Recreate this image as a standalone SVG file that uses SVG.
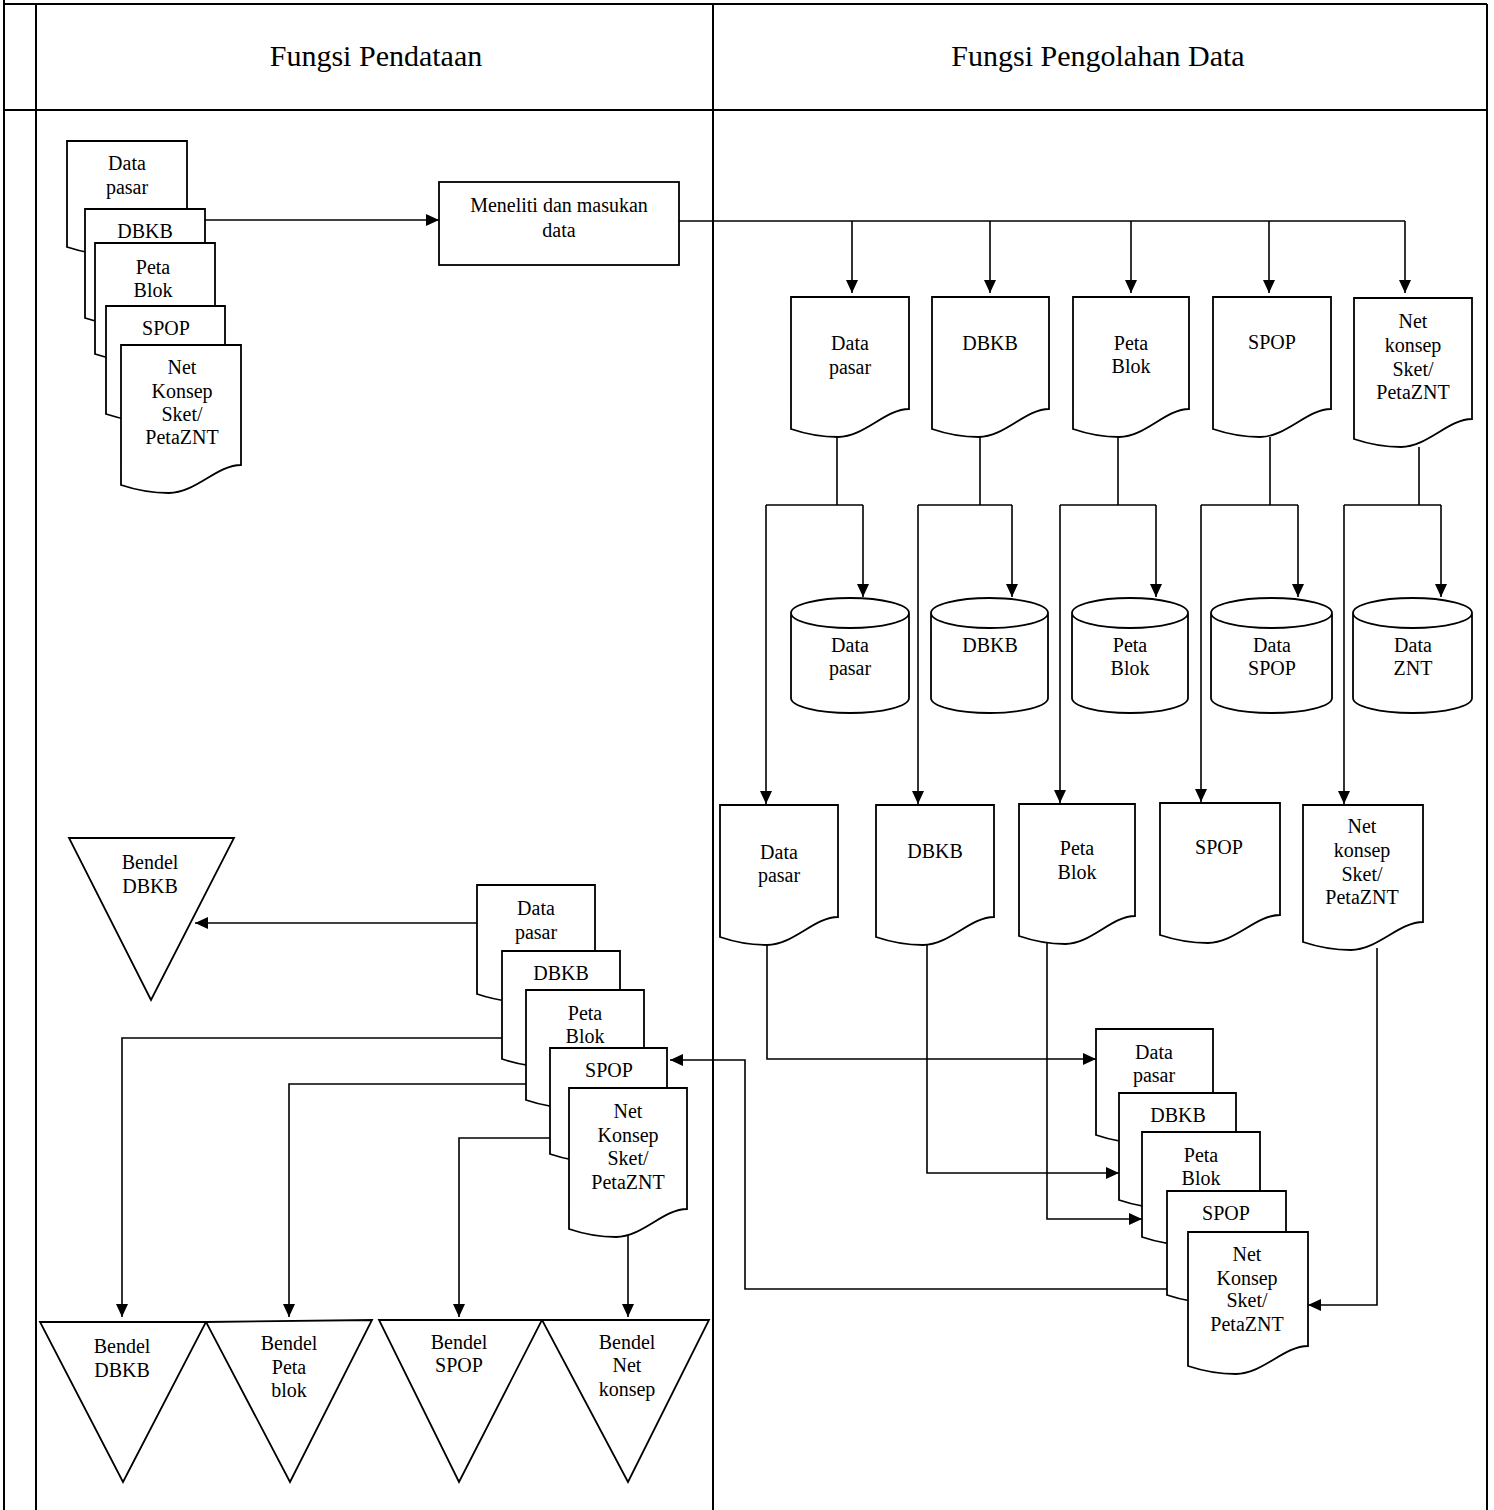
<svg xmlns="http://www.w3.org/2000/svg" width="1494" height="1510" viewBox="0 0 1494 1510">
<style>
.frame{fill:none;stroke:#000;stroke-width:2}
.shape{fill:#fff;stroke:#000;stroke-width:1.8}
.line{fill:none;stroke:#000;stroke-width:1.6}
.arr{fill:none;stroke:#000;stroke-width:1.6;marker-end:url(#ah)}
text{font-family:"Liberation Serif","Times New Roman",serif;font-size:20px;fill:#000;text-anchor:middle}
.hdr{font-size:30px}
</style>
<defs>
<marker id="ah" viewBox="0 0 13 12" refX="13" refY="6" markerWidth="13" markerHeight="12" markerUnits="userSpaceOnUse" orient="auto">
<path d="M0,0 L13,6 L0,12 Z" fill="#000"/>
</marker>
</defs>
<rect width="1494" height="1510" fill="#fff"/>
<g id="frame">
<path class="frame" d="M4,0 V1510 M36,4 V1510 M713,4 V1510 M1487,4 V1510 M4,4 H1487 M4,110 H1487"/>
<text class="hdr" x="376" y="66">Fungsi Pendataan</text>
<text class="hdr" x="1098" y="66">Fungsi Pengolahan Data</text>
</g>
<g id="connectors">
<path class="arr" d="M205,220 H439"/>
<path class="line" d="M679,221 H1405"/>
<path class="arr" d="M852,221 V293"/>
<path class="arr" d="M990,221 V293"/>
<path class="arr" d="M1131,221 V293"/>
<path class="arr" d="M1269,221 V293"/>
<path class="arr" d="M1405,221 V293"/>
<path class="line" d="M837,437 V505 M766,505 H863 M980,437 V505 M918,505 H1012 M1118,437 V505 M1060,505 H1156 M1270,437 V505 M1201,505 H1298 M1419,447 V505 M1344,505 H1441"/>
<path class="arr" d="M863,505 V597"/>
<path class="arr" d="M766,505 V804"/>
<path class="arr" d="M1012,505 V597"/>
<path class="arr" d="M918,505 V804"/>
<path class="arr" d="M1156,505 V597"/>
<path class="arr" d="M1060,505 V803"/>
<path class="arr" d="M1298,505 V597"/>
<path class="arr" d="M1201,505 V802"/>
<path class="arr" d="M1441,505 V597"/>
<path class="arr" d="M1344,505 V804"/>
<path class="arr" d="M767,945 V1059 H1096"/>
<path class="arr" d="M927,943 V1173 H1119"/>
<path class="arr" d="M1047,943 V1219 H1142"/>
<path class="arr" d="M1377,948 V1305 H1308"/>
<path class="arr" d="M1167,1289 H745 V1060 H670"/>
<path class="arr" d="M477,923 H195"/>
<path class="arr" d="M502,1038 H122 V1317"/>
<path class="arr" d="M526,1084 H289 V1317"/>
<path class="arr" d="M550,1138 H459 V1317"/>
<path class="arr" d="M628,1235 V1317"/>
</g>
<g id="stack-input">
<g id="in-datapasar"><path class="shape" d="M67,141 H187 V227 C163,227 141.4,255 115,255 C95.8,255 79,251 67,247 Z"/><text x="127" y="170">Data</text><text x="127" y="194">pasar</text></g>
<g id="in-dbkb"><path class="shape" d="M85,209 H205 V298 C181,298 159.4,326 133,326 C113.8,326 97,322 85,318 Z"/><text x="145" y="238">DBKB</text></g>
<g id="in-peta"><path class="shape" d="M95,243 H215 V334 C191,334 169.4,362 143,362 C123.8,362 107,358 95,354 Z"/><text x="153" y="274">Peta</text><text x="153" y="297">Blok</text></g>
<g id="in-spop"><path class="shape" d="M106,306 H225 V394 C201.2,394 179.8,422 153.6,422 C134.6,422 117.9,418 106,414 Z"/><text x="166" y="335">SPOP</text></g>
<g id="in-net"><path class="shape" d="M121,345 H241 V465 C217,465 195.4,493 169,493 C149.8,493 133,489 121,485 Z"/><text x="182" y="374">Net</text><text x="182" y="398">Konsep</text><text x="182" y="421">Sket/</text><text x="182" y="444">PetaZNT</text></g>
</g>
<g id="proc-meneliti"><rect class="shape" x="439" y="182" width="240" height="83"/><text x="559" y="212">Meneliti dan masukan</text><text x="559" y="237">data</text></g>
<g id="row1">
<g id="r1-datapasar"><path class="shape" d="M791,297 H909 V409 C885.4,409 864.2,437 838.2,437 C819.3,437 802.8,433 791,429 Z"/><text x="850" y="350">Data</text><text x="850" y="374">pasar</text></g>
<g id="r1-dbkb"><path class="shape" d="M932,297 H1049 V409 C1025.6,409 1004.5,437 978.8,437 C960.1,437 943.7,433 932,429 Z"/><text x="990" y="350">DBKB</text></g>
<g id="r1-peta"><path class="shape" d="M1073,297 H1189 V409 C1165.8,409 1144.9,437 1119.4,437 C1100.8,437 1084.6,433 1073,429 Z"/><text x="1131" y="350">Peta</text><text x="1131" y="373">Blok</text></g>
<g id="r1-spop"><path class="shape" d="M1213,297 H1331 V409 C1307.4,409 1286.2,437 1260.2,437 C1241.3,437 1224.8,433 1213,429 Z"/><text x="1272" y="349">SPOP</text></g>
<g id="r1-net"><path class="shape" d="M1354,298 H1472 V419 C1448.4,419 1427.2,447 1401.2,447 C1382.3,447 1365.8,443 1354,439 Z"/><text x="1413" y="328">Net</text><text x="1413" y="352">konsep</text><text x="1413" y="376">Sket/</text><text x="1413" y="399">PetaZNT</text></g>
</g>
<g id="databases">
<g id="db-datapasar"><path class="shape" d="M791,613 A59,15 0 0 1 909,613 V698 A59,15 0 0 1 791,698 Z M791,613 A59,15 0 0 0 909,613"/><text x="850" y="652">Data</text><text x="850" y="675">pasar</text></g>
<g id="db-dbkb"><path class="shape" d="M931,613 A58.5,15 0 0 1 1048,613 V698 A58.5,15 0 0 1 931,698 Z M931,613 A58.5,15 0 0 0 1048,613"/><text x="990" y="652">DBKB</text></g>
<g id="db-peta"><path class="shape" d="M1072,613 A58,15 0 0 1 1188,613 V698 A58,15 0 0 1 1072,698 Z M1072,613 A58,15 0 0 0 1188,613"/><text x="1130" y="652">Peta</text><text x="1130" y="675">Blok</text></g>
<g id="db-spop"><path class="shape" d="M1211,613 A60.5,15 0 0 1 1332,613 V698 A60.5,15 0 0 1 1211,698 Z M1211,613 A60.5,15 0 0 0 1332,613"/><text x="1272" y="652">Data</text><text x="1272" y="675">SPOP</text></g>
<g id="db-znt"><path class="shape" d="M1353,613 A59.5,15 0 0 1 1472,613 V698 A59.5,15 0 0 1 1353,698 Z M1353,613 A59.5,15 0 0 0 1472,613"/><text x="1413" y="652">Data</text><text x="1413" y="675">ZNT</text></g>
</g>
<g id="row2">
<g id="r2-datapasar"><path class="shape" d="M720,805 H838 V917 C814.4,917 793.2,945 767.2,945 C748.3,945 731.8,941 720,937 Z"/><text x="779" y="859">Data</text><text x="779" y="882">pasar</text></g>
<g id="r2-dbkb"><path class="shape" d="M876,805 H994 V917 C970.4,917 949.2,945 923.2,945 C904.3,945 887.8,941 876,937 Z"/><text x="935" y="858">DBKB</text></g>
<g id="r2-peta"><path class="shape" d="M1019,804 H1135 V916 C1111.8,916 1090.9,944 1065.4,944 C1046.8,944 1030.6,940 1019,936 Z"/><text x="1077" y="855">Peta</text><text x="1077" y="879">Blok</text></g>
<g id="r2-spop"><path class="shape" d="M1160,803 H1280 V915 C1256,915 1234.4,943 1208,943 C1188.8,943 1172,939 1160,935 Z"/><text x="1219" y="854">SPOP</text></g>
<g id="r2-net"><path class="shape" d="M1303,805 H1423 V922 C1399,922 1377.4,950 1351,950 C1331.8,950 1315,946 1303,942 Z"/><text x="1362" y="833">Net</text><text x="1362" y="857">konsep</text><text x="1362" y="881">Sket/</text><text x="1362" y="904">PetaZNT</text></g>
</g>
<g id="stack-right">
<g id="sr-datapasar"><path class="shape" d="M1096,1029 H1213 V1115 C1189.6,1115 1168.5,1143 1142.8,1143 C1124.1,1143 1107.7,1139 1096,1135 Z"/><text x="1154" y="1059">Data</text><text x="1154" y="1082">pasar</text></g>
<g id="sr-dbkb"><path class="shape" d="M1119,1093 H1236 V1180 C1212.6,1180 1191.5,1208 1165.8,1208 C1147.1,1208 1130.7,1204 1119,1200 Z"/><text x="1178" y="1122">DBKB</text></g>
<g id="sr-peta"><path class="shape" d="M1142,1132 H1260 V1217 C1236.4,1217 1215.2,1245 1189.2,1245 C1170.3,1245 1153.8,1241 1142,1237 Z"/><text x="1201" y="1162">Peta</text><text x="1201" y="1185">Blok</text></g>
<g id="sr-spop"><path class="shape" d="M1167,1191 H1286 V1275 C1262.2,1275 1240.8,1303 1214.6,1303 C1195.6,1303 1178.9,1299 1167,1295 Z"/><text x="1226" y="1220">SPOP</text></g>
<g id="sr-net"><path class="shape" d="M1188,1232 H1308 V1346 C1284,1346 1262.4,1374 1236,1374 C1216.8,1374 1200,1370 1188,1366 Z"/><text x="1247" y="1261">Net</text><text x="1247" y="1285">Konsep</text><text x="1247" y="1307">Sket/</text><text x="1247" y="1331">PetaZNT</text></g>
</g>
<g id="stack-left">
<g id="sl-datapasar"><path class="shape" d="M477,885 H595 V974 C571.4,974 550.2,1002 524.2,1002 C505.3,1002 488.8,998 477,994 Z"/><text x="536" y="915">Data</text><text x="536" y="939">pasar</text></g>
<g id="sl-dbkb"><path class="shape" d="M502,951 H620 V1039 C596.4,1039 575.2,1067 549.2,1067 C530.3,1067 513.8,1063 502,1059 Z"/><text x="561" y="980">DBKB</text></g>
<g id="sl-peta"><path class="shape" d="M526,990 H644 V1080 C620.4,1080 599.2,1108 573.2,1108 C554.3,1108 537.8,1104 526,1100 Z"/><text x="585" y="1020">Peta</text><text x="585" y="1043">Blok</text></g>
<g id="sl-spop"><path class="shape" d="M550,1048 H667 V1134 C643.6,1134 622.5,1162 596.8,1162 C578.1,1162 561.7,1158 550,1154 Z"/><text x="609" y="1077">SPOP</text></g>
<g id="sl-net"><path class="shape" d="M569,1088 H687 V1209 C663.4,1209 642.2,1237 616.2,1237 C597.3,1237 580.8,1233 569,1229 Z"/><text x="628" y="1118">Net</text><text x="628" y="1142">Konsep</text><text x="628" y="1165">Sket/</text><text x="628" y="1189">PetaZNT</text></g>
</g>
<g id="archives">
<g id="ar-dbkb-top"><polygon class="shape" points="69,838 234,838 151,1000"/><text x="150" y="869">Bendel</text><text x="150" y="893">DBKB</text></g>
<g id="ar-dbkb"><polygon class="shape" points="40,1322 206,1322 123,1482"/><text x="122" y="1353">Bendel</text><text x="122" y="1377">DBKB</text></g>
<g id="ar-peta"><polygon class="shape" points="206,1322 372,1320 290,1482"/><text x="289" y="1350">Bendel</text><text x="289" y="1374">Peta</text><text x="289" y="1397">blok</text></g>
<g id="ar-spop"><polygon class="shape" points="379,1320 542,1320 459,1482"/><text x="459" y="1349">Bendel</text><text x="459" y="1372">SPOP</text></g>
<g id="ar-net"><polygon class="shape" points="542,1320 709,1320 628,1482"/><text x="627" y="1349">Bendel</text><text x="627" y="1372">Net</text><text x="627" y="1396">konsep</text></g>
</g>
</svg>
